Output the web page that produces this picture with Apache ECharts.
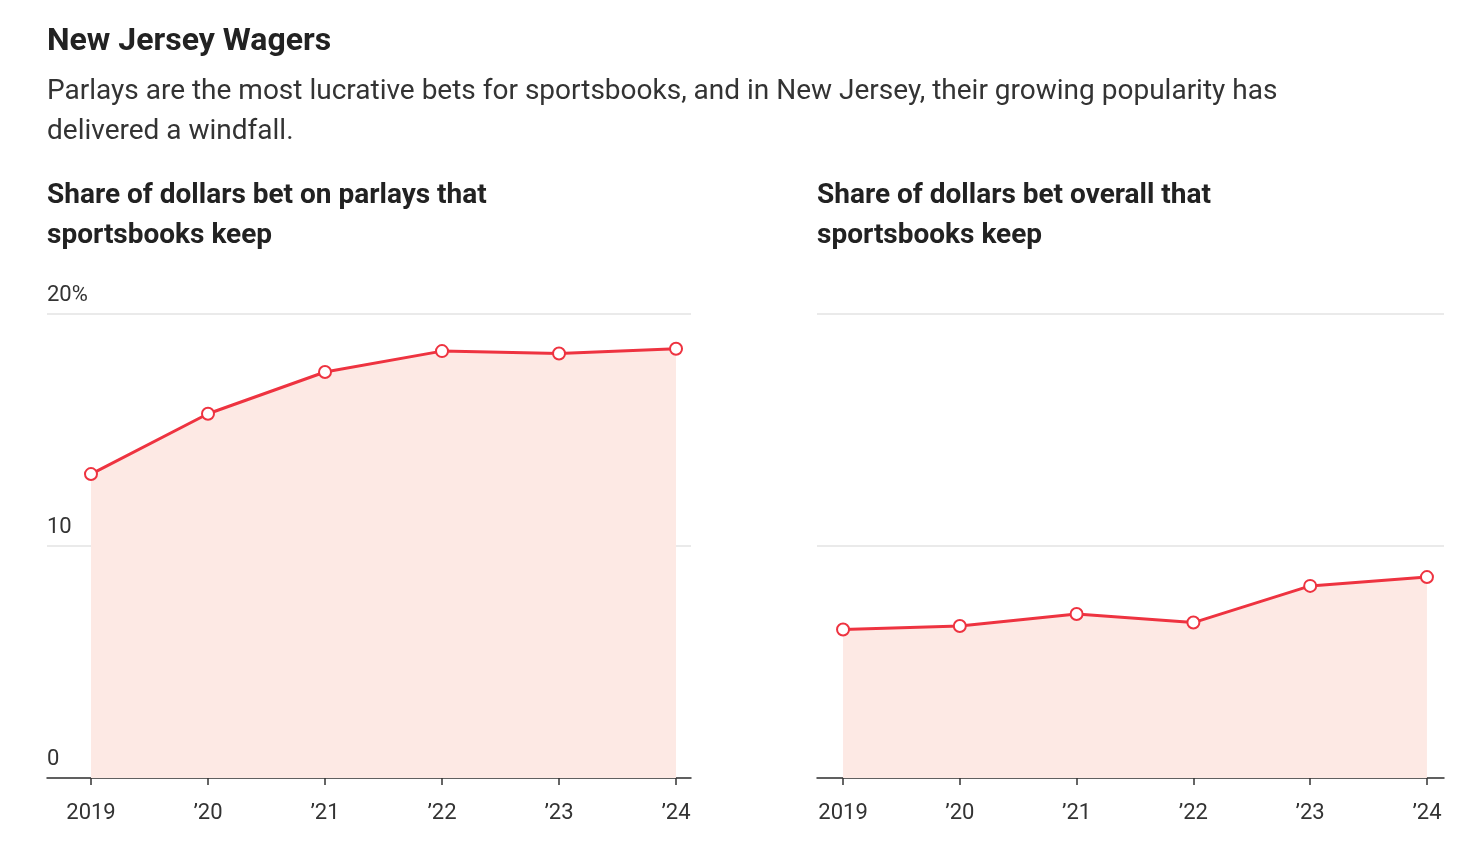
<!DOCTYPE html>
<html>
<head>
<meta charset="utf-8">
<script src="https://cdn.jsdelivr.net/npm/echarts@6.0.0/dist/echarts.min.js"></script>
<style>
  html, body { margin: 0; padding: 0; background: #fff; }
  #chart { width: 1482px; height: 846px; }
</style>
</head>
<body>
<div id="chart"></div>
<script>
(function () {
  'use strict';

  var years = ['2019', '\u201920', '\u201921', '\u201922', '\u201923', '\u201924'];
  var parlayHold = [13.1, 15.7, 17.5, 18.4, 18.3, 18.5];
  var overallHold = [6.4, 6.55, 7.07, 6.7, 8.28, 8.66];

  var font = 'Roboto, "Noto Sans", sans-serif';
  var red = '#ee3340';

  function pairs(vals) {
    return vals.map(function (v, i) { return [i, v]; });
  }

  function xAxis(idx, min, max) {
    var idxs = years.map(function (y, i) { return i; });
    return {
      type: 'value', gridIndex: idx, min: min, max: max,
      splitLine: { show: false },
      axisLine: { show: true, onZero: false, lineStyle: { color: '#333', width: 1.5 } },
      axisTick: { show: true, customValues: idxs, length: 7, lineStyle: { color: '#333', width: 1.5 } },
      axisLabel: {
        customValues: idxs, margin: 24, color: '#333', fontSize: 22, fontFamily: font,
        formatter: function (v) { return years[Math.round(v)]; }
      }
    };
  }

  function yAxis(idx, labels) {
    return {
      type: 'value', gridIndex: idx, min: 0, max: 20, interval: 10,
      axisLine: { show: false }, axisTick: { show: false },
      splitLine: { lineStyle: { color: '#e3e3e3', width: 1.5 } },
      axisLabel: {
        show: labels, inside: true, verticalAlign: 'bottom', align: 'left',
        margin: 0, padding: [0, 0, 8, 0],
        color: '#333', fontSize: 22, fontFamily: font,
        formatter: function (v) { return v === 20 ? '20%' : String(v); }
      }
    };
  }

  function series(idx, vals) {
    return {
      type: 'line', xAxisIndex: idx, yAxisIndex: idx, data: pairs(vals),
      symbol: 'circle', symbolSize: 12,
      itemStyle: { color: '#fff', borderColor: red, borderWidth: 2 },
      lineStyle: { color: red, width: 3 },
      areaStyle: { color: '#fde9e4', opacity: 1 },
      z: 3
    };
  }

  var chart = echarts.init(document.getElementById('chart'));
  chart.setOption({
    animation: false,
    title: [
      { text: 'New Jersey Wagers', left: 47, top: 26, padding: 0,
        textStyle: { fontFamily: font, fontSize: 32, fontWeight: 'bold', color: '#222' } },
      { text: 'Parlays are the most lucrative bets for sportsbooks, and in New Jersey, their growing popularity has\ndelivered a windfall.',
        left: 47, top: 72, padding: 0,
        textStyle: { fontFamily: font, fontSize: 28, fontWeight: 'normal', color: '#333', lineHeight: 40 } },
      { text: 'Share of dollars bet on parlays that\nsportsbooks keep', left: 47, top: 176, padding: 0,
        textStyle: { fontFamily: font, fontSize: 28, fontWeight: 'bold', color: '#222', lineHeight: 40 } },
      { text: 'Share of dollars bet overall that\nsportsbooks keep', left: 817, top: 176, padding: 0,
        textStyle: { fontFamily: font, fontSize: 28, fontWeight: 'bold', color: '#222', lineHeight: 40 } }
    ],
    grid: [
      { left: 47, width: 644, top: 314, bottom: 68 },
      { left: 817, right: 38, top: 314, bottom: 68 }
    ],
    xAxis: [xAxis(0, -0.376, 5.128), xAxis(1, -0.223, 5.146)],
    yAxis: [yAxis(0, true), yAxis(1, false)],
    series: [series(0, parlayHold), series(1, overallHold)]
  });
})();
</script>
</body>
</html>
